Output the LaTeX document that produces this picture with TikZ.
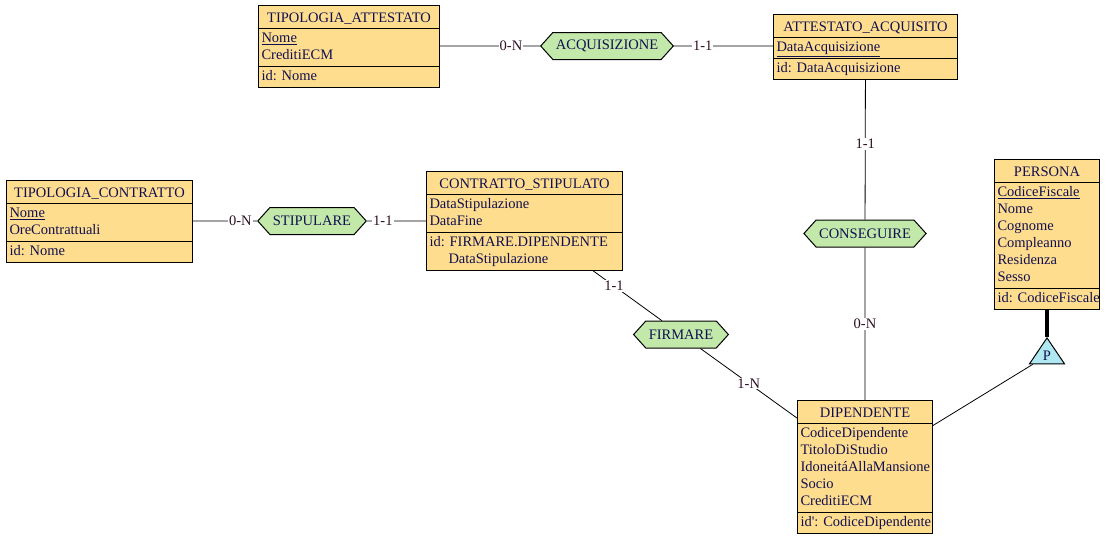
\documentclass[tikz,border=0pt]{standalone}
\usepackage{fontspec}
\setmainfont{Liberation Serif}
\usetikzlibrary{shapes.multipart, shapes.symbols, shapes.geometric}
\definecolor{erline}{RGB}{0,0,0}
\definecolor{erentity}{RGB}{255,221,142}
\definecolor{errel}{RGB}{194,232,170}
\definecolor{erisa}{RGB}{176,232,242}
\definecolor{ertext}{RGB}{16,16,80}
\definecolor{ercard}{RGB}{45,15,35}
\newcommand{\enttitle}[1]{\hfill\rule[-4pt]{0pt}{19pt}#1\hfill\null}
\tikzset{
  ebox/.style={
    rectangle split, rectangle split parts=3,
    draw=erline, fill=erentity, line width=1pt,
    align=left, text=ertext,
    font=\fontsize{14.5}{17}\selectfont,
    inner xsep=3pt, inner ysep=1.5pt, anchor=north west
  },
  rbox/.style={
    signal, signal to=west and east, signal pointer angle=96,
    draw=erline, fill=errel, line width=1pt, text=ertext,
    font=\fontsize{14.5}{17}\selectfont,
    minimum height=27pt, inner xsep=3pt, inner ysep=0pt
  },
  isatri/.style={
    isosceles triangle, isosceles triangle apex angle=68,
    shape border rotate=90, anchor=apex,
    draw=erline, fill=erisa, line width=1pt, text=ertext,
    font=\fontsize{14.5}{17}\selectfont,
    inner sep=1pt, minimum height=26pt
  },
  card/.style={fill=white, text=ercard, inner sep=1pt,
    font=\fontsize{14.5}{17}\selectfont},
  conn/.style={draw=erline, line width=0.8pt},
  isa/.style={draw=erline, line width=4pt},
}
\begin{document}
\begin{tikzpicture}[x=1pt, y=-1pt]
  \useasboundingbox[fill=white] (0,0) rectangle (1108,539);

  \node[ebox, text width=175pt] (tatt) at (258,5) {\enttitle{TIPOLOGIA\_ATTESTATO}
    \nodepart{two}\strut\underline{Nome}\\CreditiECM\strut
    \nodepart{three}\strut id:~Nome\strut};
  \node[ebox, text width=178pt] (atta) at (773,14) {\enttitle{ATTESTATO\_ACQUISITO}
    \nodepart{two}\strut\underline{DataAcquisizione}\strut
    \nodepart{three}\strut id:~DataAcquisizione\strut};
  \node[ebox, text width=180pt] (tcon) at (6,180) {\enttitle{TIPOLOGIA\_CONTRATTO}
    \nodepart{two}\strut\underline{Nome}\\OreContrattuali\strut
    \nodepart{three}\strut id:~Nome\strut};
  \node[ebox, text width=190pt] (csti) at (426,171) {\enttitle{CONTRATTO\_STIPULATO}
    \nodepart{two}\strut DataStipulazione\\DataFine\strut
    \nodepart{three}\strut id:~FIRMARE.DIPENDENTE\\\hspace*{19pt}DataStipulazione\strut};
  \node[ebox, text width=99pt] (pers) at (994,159) {\enttitle{PERSONA}
    \nodepart{two}\strut\underline{CodiceFiscale}\\Nome\\Cognome\\Compleanno\\Residenza\\Sesso\strut
    \nodepart{three}\strut id:~CodiceFiscale\strut};
  \node[ebox, text width=129pt] (dip) at (797,400) {\enttitle{DIPENDENTE}
    \nodepart{two}\strut CodiceDipendente\\TitoloDiStudio\\IdoneitáAllaMansione\\Socio\\CreditiECM\strut
    \nodepart{three}\strut id\textquotesingle:~CodiceDipendente\strut};

  \node[rbox] (acq) at (607,46) {ACQUISIZIONE};
  \node[rbox] (sti) at (312,221) {STIPULARE};
  \node[rbox] (con) at (865,233.5) {CONSEGUIRE};
  \node[rbox] (fir) at (681,334.5) {FIRMARE};
  \node[isatri] (tri) at (pers.south |- 0,337) {P};

  \draw[conn] (tatt.east |- acq) -- node[card, pos=0.71] {0-N} (acq);
  \draw[conn] (acq) -- node[card, pos=0.29] {1-1} (acq -| atta.west);
  \draw[conn] (tcon.east |- sti) -- node[card, pos=0.74] {0-N} (sti);
  \draw[conn] (sti) -- node[card, pos=0.27] {1-1} (sti -| csti.west);
  \draw[conn] (atta) -- node[card, pos=0.46] {1-1} (con);
  \draw[conn] (con) -- node[card] {0-N} (dip);
  \draw[conn] (csti) -- node[card, pos=0.3] {1-1} (fir);
  \draw[conn] (fir) -- node[card] {1-N} (dip);
  \draw[conn] (dip) -- (tri);
  \draw[isa] (pers.south) -- (tri.apex);
\end{tikzpicture}
\end{document}
